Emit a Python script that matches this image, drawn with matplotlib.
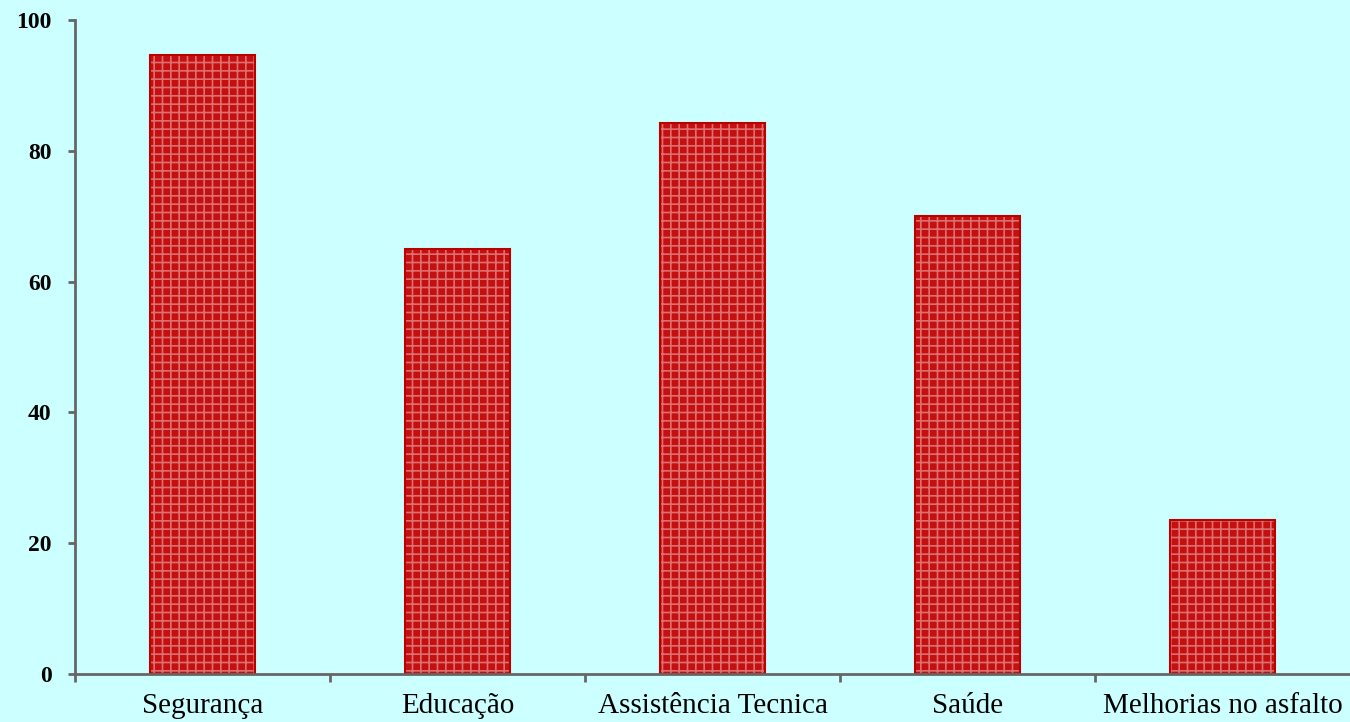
import numpy as np
import matplotlib
matplotlib.use('Agg')
import matplotlib.pyplot as plt

# Dados do gráfico
categorias = ['Segurança', 'Educação', 'Assistência Tecnica', 'Saúde', 'Melhorias no asfalto']
valores = [94.7, 65, 84.2, 70, 23.6]
yticks = [0, 20, 40, 60, 80, 100]

fundo = '#ccffff'
cinza = '#666666'

fig = plt.figure(figsize=(13.5, 7.22), dpi=100, facecolor=fundo)
ax = fig.add_axes([75 / 1350, 48 / 722, 1 - 75 / 1350, (674 - 20) / 722])
ax.set_facecolor(fundo)

x = np.arange(len(categorias))
plt.rcParams['hatch.linewidth'] = 1.2
# preenchimento com trama rosada
ax.bar(x, valores, width=0.41, color='#c41010', edgecolor='#dc7070',
       hatch='++', linewidth=0, zorder=2)
# contorno vermelho escuro
ax.bar(x, valores, width=0.41, fill=False, edgecolor='#bb0000',
       linewidth=1.5, zorder=3)

ax.set_xlim(-0.5, 4.5)
ax.set_ylim(0, 100)
ax.set_yticks(yticks)
ax.set_yticklabels([str(v) for v in yticks], fontfamily='Liberation Serif',
                   fontweight='bold', fontsize=17)
ax.set_xticks(x)
ax.set_xticklabels(categorias, fontfamily='Liberation Serif', fontsize=21)
ax.set_xticks(np.arange(-0.5, 4.0, 1), minor=True)
ax.tick_params(axis='x', which='major', length=0, pad=14)
ax.tick_params(axis='x', which='minor', length=6, width=2, color=cinza)
ax.tick_params(axis='y', length=5, width=2, color=cinza, pad=12)

for lado in ['top', 'right']:
    ax.spines[lado].set_visible(False)
for lado in ['left', 'bottom']:
    ax.spines[lado].set_color(cinza)
    ax.spines[lado].set_linewidth(2)
ax.spines['bottom'].set_zorder(4)

fig.savefig('out.png', dpi=100, facecolor=fundo)
